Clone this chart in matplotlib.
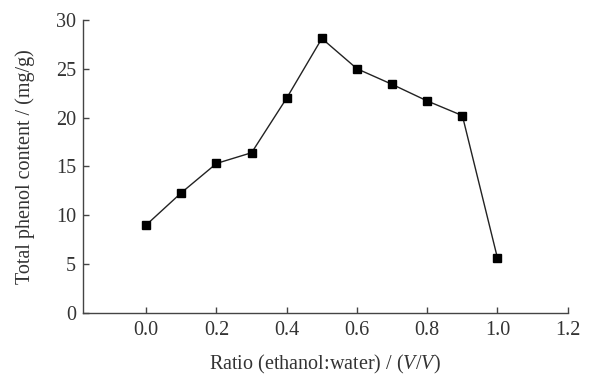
import matplotlib.pyplot as plt

plt.rcParams['font.family'] = ['Liberation Serif', 'DejaVu Serif']
plt.rcParams['mathtext.fontset'] = 'custom'
plt.rcParams['mathtext.rm'] = 'Liberation Serif'
plt.rcParams['mathtext.it'] = 'Liberation Serif:italic'

ratio = [0.0, 0.1, 0.2, 0.3, 0.4, 0.5, 0.6, 0.7, 0.8, 0.9, 1.0]
phenol = [9.0, 12.3, 15.3, 16.4, 22.0, 28.1, 25.0, 23.4, 21.7, 20.2, 5.6]
x_ticks = [0.0, 0.2, 0.4, 0.6, 0.8, 1.0, 1.2]
y_ticks = [0, 5, 10, 15, 20, 25, 30]

fig = plt.figure(figsize=(5.97, 3.76), dpi=100)
ax = fig.add_axes([0.139, 0.168, 0.812, 0.779])

ax.plot(ratio, phenol, color='#222222', lw=1.0, marker='s', ms=6,
        markerfacecolor='black', markeredgecolor='black')

ax.set_xlim(-0.18, 1.2)
ax.set_ylim(0, 30)
ax.set_xticks(x_ticks)
ax.set_xticklabels([f'{v:.1f}' for v in x_ticks])
ax.set_yticks(y_ticks)

for s in ['top', 'right']:
    ax.spines[s].set_visible(False)
for s in ['left', 'bottom']:
    ax.spines[s].set_color('#444444')
    ax.spines[s].set_linewidth(1.0)

ax.tick_params(direction='in', length=4, width=1, colors='#444444',
               labelsize=14.5, labelcolor='#333333')
ax.tick_params(axis='x', pad=6)
ax.tick_params(axis='y', pad=5)

ax.set_xlabel('Ratio (ethanol:water) / ($\\mathit{V/V}$)', fontsize=14.5, color='#333333', labelpad=9)
ax.set_ylabel('Total phenol content / (mg/g)', fontsize=14.5, color='#333333', labelpad=15)

fig.savefig('out.png', dpi=100)
